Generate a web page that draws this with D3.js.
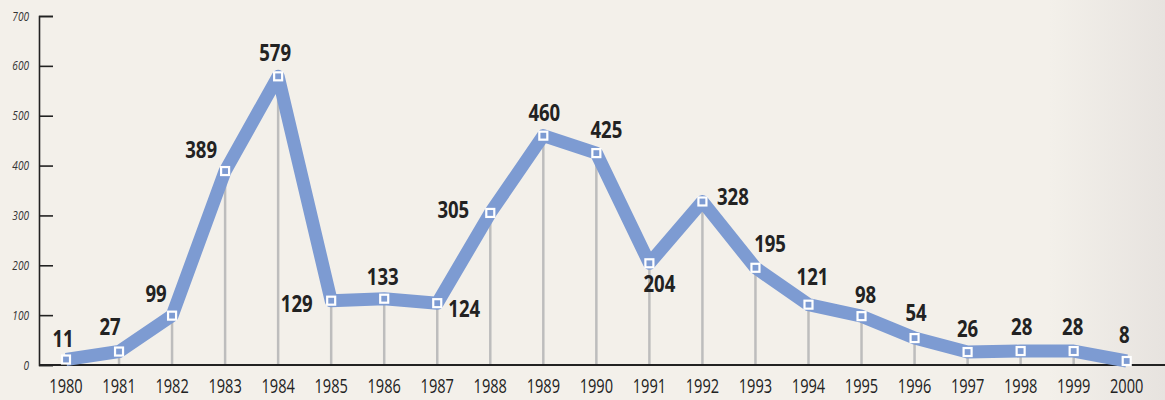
<!DOCTYPE html>
<html>
<head>
<meta charset="utf-8">
<script src="https://cdn.jsdelivr.net/npm/d3@7/dist/d3.min.js"></script>
<style>
  html, body { margin: 0; padding: 0; background: #f3efe9; }
  svg { display: block; }
  .cond { font-family: "Open Sans", "Noto Sans", sans-serif; }
</style>
</head>
<body>
<svg id="chart" width="1165" height="400"></svg>
<script>
// ---- data ----
const years = ["1980","1981","1982","1983","1984","1985","1986","1987","1988","1989","1990",
               "1991","1992","1993","1994","1995","1996","1997","1998","1999","2000"];
const values = [11, 27, 99, 389, 579, 129, 133, 124, 305, 460, 425,
                204, 328, 195, 121, 98, 54, 26, 28, 28, 8];
const yTicks = [0, 100, 200, 300, 400, 500, 600, 700];

// ---- label layout (nudges relative to each point) ----
const labelNudge = [
  [-3,-12.5],[-9,-16.5],[-16,-14],[-24,-13],[-3,-15.6],[-34.5,11],[-1.5,-13.7],[27,13.5],
  [-37,5.5],[1,-15],[10,-15],[10,28.5],[30.5,3.5],[14.6,-16],[4,-19.7],[4,-13.4],
  [1.5,-17.4],[0,-15.3],[1,-16],[-1,-16],[-2.4,-17.7]
];

const W = 1165, H = 400;
const svg = d3.select("#chart");

const defs = svg.append("defs");
const grad = defs.append("linearGradient").attr("id", "bg").attr("x1", "0").attr("x2", "1").attr("y1", "0").attr("y2", "0");
grad.append("stop").attr("offset", "0").attr("stop-color", "#f3f0ea");
grad.append("stop").attr("offset", "0.9").attr("stop-color", "#f3f0ea");
grad.append("stop").attr("offset", "1").attr("stop-color", "#e7e3df");
svg.append("rect").attr("width", W).attr("height", H).attr("fill", "url(#bg)");

const x = d3.scalePoint().domain(years).range([66, 1126.7]);
const y = d3.scaleLinear().domain([0, 700]).range([365, 16]);

const data = years.map((yr, i) => ({ yr, v: values[i], n: labelNudge[i] }));

// drop lines
svg.append("g").selectAll("line").data(data).enter().append("line")
  .attr("x1", d => x(d.yr)).attr("x2", d => x(d.yr))
  .attr("y1", d => y(d.v)).attr("y2", y(0))
  .attr("stroke", "#bdbdbd").attr("stroke-width", 2.5);

// y axis
const yAxis = d3.axisRight(y).tickValues(yTicks).tickSize(14).tickFormat("");
const gy = svg.append("g").attr("transform", "translate(39,0)").call(yAxis);
gy.select(".domain").attr("stroke", "#222").attr("stroke-width", 1.6);
gy.selectAll(".tick line").attr("stroke", "#222").attr("stroke-width", 1.6);

svg.append("g").selectAll("text").data(yTicks).enter().append("text")
  .attr("class", "cond")
  .attr("transform", d => `translate(29,${y(d) + 4.5}) scale(0.8,1)`)
  .attr("text-anchor", "end")
  .attr("font-size", 12.6).attr("font-style", "italic")
  .attr("fill", "#333")
  .text(d => d);

// x axis
const xAxis = d3.axisBottom(x).tickSize(0).tickPadding(0).tickFormat("");
const gx = svg.append("g").attr("transform", `translate(0,${y(0)})`).call(xAxis);
gx.select(".domain").remove();
svg.append("line").attr("x1", 39).attr("x2", W).attr("y1", y(0)).attr("y2", y(0))
  .attr("stroke", "#222").attr("stroke-width", 2.2);

svg.append("g").selectAll("text").data(years).enter().append("text")
  .attr("class", "cond")
  .attr("transform", d => `translate(${x(d)},393) scale(0.73,1)`)
  .attr("text-anchor", "middle")
  .attr("font-size", 20)
  .attr("fill", "#222")
  .text(d => d);

// main line
const line = d3.line().x(d => x(d.yr)).y(d => y(d.v));
svg.append("path").datum(data)
  .attr("d", line)
  .attr("fill", "none")
  .attr("stroke", "#7d9bd2")
  .attr("stroke-width", 13)
  .attr("stroke-linejoin", "round");

// markers
svg.append("g").selectAll("rect").data(data).enter().append("rect")
  .attr("x", d => x(d.yr) - 4).attr("y", d => y(d.v) - 4)
  .attr("width", 8).attr("height", 8)
  .attr("fill", "#7d9bd2")
  .attr("stroke", "#fff").attr("stroke-width", 2.2);

// value labels
svg.append("g").selectAll("text").data(data).enter().append("text")
  .attr("class", "cond")
  .attr("transform", d => `translate(${x(d.yr) + d.n[0]},${y(d.v) + d.n[1]}) scale(0.79,1)`)
  .attr("text-anchor", "middle")
  .attr("font-size", 23.5).attr("font-weight", "bold")
  .attr("fill", "#222")
  .text(d => d.v);
</script>
</body>
</html>
